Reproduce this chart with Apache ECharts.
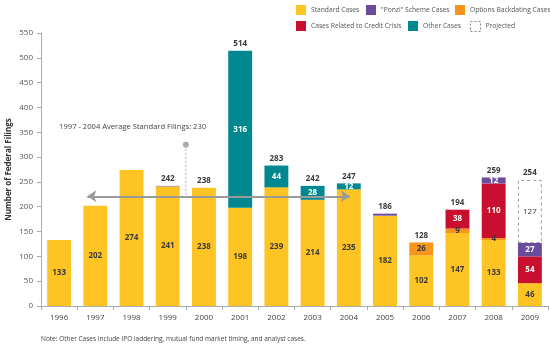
<!DOCTYPE html>
<html>
<head>
<meta charset="utf-8">
<script src="https://cdn.jsdelivr.net/npm/echarts@6/dist/echarts.min.js"></script>
<style>
  html, body { margin: 0; padding: 0; background: #fff; }
  #chart { width: 550px; height: 350px; }
</style>
</head>
<body>
<div id="chart"></div>
<script>
const years = ['1996', '1997', '1998', '1999', '2000', '2001', '2002', '2003', '2004', '2005', '2006', '2007', '2008', '2009'];
const standardCases = [133, 202, 274, 241, 238, 198, 239, 214, 235, 182, 102, 147, 133, 46];
const backdatingCases = [0, 0, 0, 0, 0, 0, 0, 0, 0, 0, 26, 9, 4, 0];
const creditCrisisCases = [0, 0, 0, 0, 0, 0, 0, 0, 0, 0, 0, 38, 110, 54];
const ponziCases = [0, 0, 0, 1, 0, 0, 0, 0, 0, 4, 0, 0, 12, 27];
const otherCases = [0, 0, 0, 0, 0, 316, 44, 28, 12, 0, 0, 0, 0, 0];
const projectedCases = [0, 0, 0, 0, 0, 0, 0, 0, 0, 0, 0, 0, 0, 127];
const totals = [null, null, null, 242, 238, 514, 283, 242, 247, 186, 128, 194, 259, 254];
const yTicks = [0, 50, 100, 150, 200, 250, 300, 350, 400, 450, 500, 550];

const avgText = '1997 - 2004 Average Standard Filings: 230';
const avgLineLevel = 221;
const noteText = 'Note: Other Cases include IPO laddering, mutual fund market timing, and analyst cases.';

const FONT = 'Open Sans';
const chart = echarts.init(document.getElementById('chart'));

// 0 values are drawn empty and without label
function seg(arr, hide) {
    return arr.map((v, i) => {
        if (!v) return '-';
        if (hide && hide.indexOf(i) >= 0) return { value: v, label: { show: false } };
        return v;
    });
}

function stackSeries(name, data, color, labelColor) {
    return {
        name: name,
        type: 'bar',
        stack: 'all',
        barWidth: '66%',
        data: data,
        itemStyle: { color: color },
        label: {
            show: true,
            position: 'inside',
            color: labelColor,
            fontFamily: FONT,
            fontSize: 8,
            fontWeight: 'bold'
        },
        emphasis: { disabled: true }
    };
}

function legendItem(name, left, top, extra) {
    return Object.assign({
        data: [name],
        left: left,
        top: top,
        padding: 0,
        itemWidth: 10,
        itemHeight: 10,
        itemGap: 5,
        icon: 'rect',
        selectedMode: false,
        textStyle: { fontFamily: FONT, fontSize: 6.7, color: '#555' }
    }, extra || {});
}

const series = [
    stackSeries('Standard Cases', seg(standardCases), '#FEC424', '#3a3a3a'),
    stackSeries('Options Backdating Cases', seg(backdatingCases), '#F7941E', '#3a3a3a'),
    stackSeries('Cases Related to Credit Crisis', seg(creditCrisisCases), '#C8102E', '#fff'),
    stackSeries('"Ponzi" Scheme Cases', seg(ponziCases, [3, 9]), '#6A4C9C', '#fff'),
    stackSeries('Other Cases', seg(otherCases), '#00878F', '#fff'),
    {
        name: 'Projected',
        type: 'bar',
        stack: 'all',
        data: seg(projectedCases),
        itemStyle: { color: 'rgba(0,0,0,0)', borderColor: '#999', borderWidth: 1, borderType: [3, 3] },
        label: { show: true, position: 'inside', color: '#3a3a3a', fontFamily: FONT, fontSize: 8 },
        emphasis: { disabled: true }
    },
    {
        name: 'total',
        type: 'bar',
        stack: 'all',
        data: totals.map(t => (t == null ? '-' : 0)),
        itemStyle: { color: 'rgba(0,0,0,0)' },
        label: {
            show: true,
            position: 'top',
            distance: 3,
            color: '#3a3a3a',
            fontFamily: FONT,
            fontSize: 8,
            fontWeight: 'bold',
            formatter: p => (totals[p.dataIndex] == null ? '' : String(totals[p.dataIndex]))
        },
        emphasis: { disabled: true }
    }
];

chart.setOption({
    animation: false,
    textStyle: { fontFamily: FONT },
    legend: [
        legendItem('Standard Cases', 296, 5),
        legendItem('"Ponzi" Scheme Cases', 366, 5),
        legendItem('Options Backdating Cases', 455, 5),
        legendItem('Cases Related to Credit Crisis', 296, 21),
        legendItem('Other Cases', 408, 21),
        legendItem('Projected', 470, 21, {
            itemStyle: { color: 'rgba(0,0,0,0)', borderColor: '#888', borderWidth: 1, borderType: [2, 2] }
        })
    ],
    grid: { left: 41, right: 2, top: 33, bottom: 44, outerBoundsMode: 'none' },
    xAxis: {
        type: 'category',
        data: years,
        axisLine: { lineStyle: { color: '#aaa' } },
        axisTick: { show: true, length: 4, lineStyle: { color: '#aaa' } },
        axisLabel: { color: '#444', fontSize: 8, margin: 8 }
    },
    yAxis: {
        type: 'value',
        min: yTicks[0],
        max: yTicks[yTicks.length - 1],
        interval: 50,
        name: 'Number of Federal Filings',
        nameLocation: 'middle',
        nameGap: 28,
        nameMoveOverlap: false,
        nameTextStyle: { fontSize: 8, fontWeight: 'bold', color: '#333' },
        axisLine: { show: true, lineStyle: { color: '#aaa' } },
        axisTick: { show: true, length: 4, lineStyle: { color: '#aaa' } },
        axisLabel: { color: '#555', fontSize: 8, margin: 8 },
        splitLine: { show: false }
    },
    series: series
});

// annotation: average arrow, text, dot and dotted leader down to the arrow
const p97 = chart.convertToPixel({ seriesIndex: 0 }, ['1997', avgLineLevel]);
const p04 = chart.convertToPixel({ seriesIndex: 0 }, ['2004', avgLineLevel]);
const p99 = chart.convertToPixel({ seriesIndex: 0 }, ['1999', 325]);
const p00 = chart.convertToPixel({ seriesIndex: 0 }, ['2000', avgLineLevel]);
const leaderX = (p99[0] + p00[0]) / 2;
const textLeft = chart.convertToPixel({ seriesIndex: 0 }, ['1996', 0])[0];

chart.setOption({
    series: [{}, {}, {}, {}, {}, {}, {
        markLine: {
            silent: true,
            symbol: ['arrow', 'arrow'],
            symbolSize: [9, 9],
            label: { show: false },
            lineStyle: { color: '#9a9a9a', width: 2, type: 'solid' },
            data: [[{ x: p97[0] - 8, y: p97[1] }, { x: p04[0] + 1, y: p04[1] }]]
        }
    }],
    graphic: [
        {
            type: 'text',
            x: textLeft,
            y: 123,
            style: { text: avgText, fill: '#444', font: '7.6px "Open Sans"' }
        },
        {
            type: 'line',
            shape: { x1: leaderX, y1: p99[1], x2: leaderX, y2: p00[1] },
            style: { stroke: '#aaa', lineWidth: 1, lineDash: [2, 2] }
        },
        {
            type: 'circle',
            shape: { cx: leaderX, cy: p99[1], r: 3 },
            style: { fill: '#aaa' }
        },
        {
            type: 'text',
            x: 41,
            y: 336,
            style: { text: noteText, fill: '#444', font: '6.5px "Open Sans"' }
        }
    ]
});
</script>
</body>
</html>
